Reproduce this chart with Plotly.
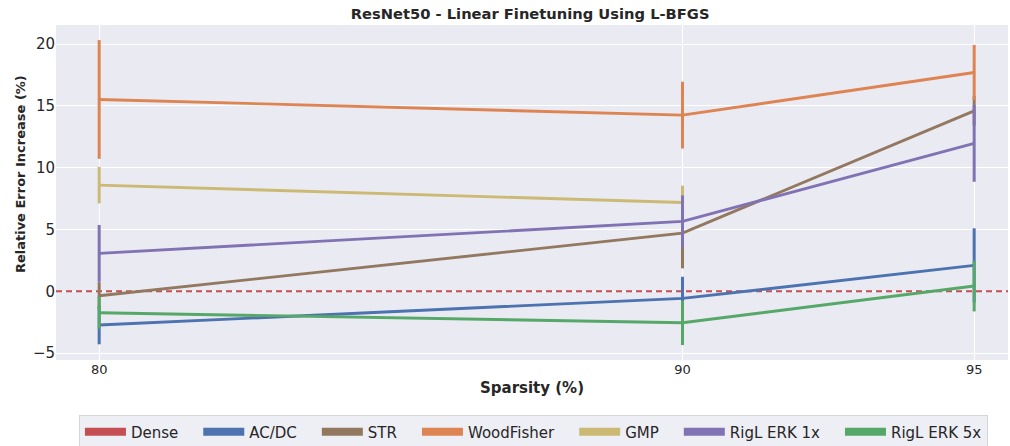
import plotly.graph_objects as go

# ---- data ----
sparsity = [80, 90, 95]
dense_value = 0.0

acdc = [-2.72, -0.57, 2.10]
acdc_err = [1.56, 1.75, 3.00]
str_vals = [-0.35, 4.71, 14.60]
str_err = [1.10, 2.85, 1.20]
woodfisher = [15.52, 14.25, 17.70]
woodfisher_err = [4.80, 2.70, 2.23]
gmp = [8.59, 7.19, None]
gmp_err = [1.48, 1.35, None]
rigl1x = [3.07, 5.66, 11.96]
rigl1x_err = [2.30, 2.10, 3.10]
rigl5x = [-1.73, -2.54, 0.43]
rigl5x_err = [1.30, 1.80, 2.05]

x_ticks = [80, 90, 95]
y_ticks = [-5, 0, 5, 10, 15, 20]
x_range = [79.26, 95.58]
y_range = [-5.55, 21.54]

# ---- style ----
COL = {
    "Dense": "#C44E52",
    "AC/DC": "#4C72B0",
    "STR": "#937860",
    "WoodFisher": "#DD8452",
    "GMP": "#CCB974",
    "RigL ERK 1x": "#8172B3",
    "RigL ERK 5x": "#55A868",
}
FONT = "DejaVu Sans"
TXT = "#262626"

series = [
    ("AC/DC", acdc, acdc_err),
    ("STR", str_vals, str_err),
    ("WoodFisher", woodfisher, woodfisher_err),
    ("GMP", gmp, gmp_err),
    ("RigL ERK 1x", rigl1x, rigl1x_err),
    ("RigL ERK 5x", rigl5x, rigl5x_err),
]

fig = go.Figure()

# Dense reference line spanning the whole axis
fig.add_trace(go.Scatter(
    x=x_range, y=[dense_value, dense_value], mode="lines", name="Dense",
    showlegend=False, line=dict(color=COL["Dense"], width=2, dash="6px,4px"),
    hoverinfo="skip",
))

for name, vals, err in series:
    fig.add_trace(go.Scatter(
        x=sparsity, y=vals, mode="lines", name=name, showlegend=False,
        line=dict(color=COL[name], width=2.9),
        error_y=dict(type="data", array=err, visible=True, width=0,
                     thickness=3, color=COL[name]),
    ))

# legend entries (thick patches); trailing en-spaces widen the item spacing
legend_names = ["Dense"] + [s[0] for s in series]
for i, name in enumerate(legend_names):
    pad = "" if i == len(legend_names) - 1 else "\u2002\u2002"
    fig.add_trace(go.Scatter(
        x=[x_range[0]], y=[y_range[0] - 100], mode="lines", name=name + pad,
        showlegend=True, line=dict(color=COL[name], width=8),
        hoverinfo="skip",
    ))

fig.update_layout(
    width=1010, height=446,
    margin=dict(l=56, r=2, t=25, b=86, autoexpand=False),
    paper_bgcolor="white",
    plot_bgcolor="#EAEAF2",
    font=dict(family=FONT, color=TXT),
    title=dict(text="ResNet50 - Linear Finetuning Using L-BFGS",
               font=dict(size=14.7, weight="bold", color=TXT),
               x=0.498, xref="paper", xanchor="center",
               y=1 - 14 / 446, yref="container", yanchor="middle"),
    showlegend=True,
    legend=dict(orientation="h", x=0.5015, xanchor="center",
                y=-0.1627, yanchor="top",
                bgcolor="#EEEEF5", bordercolor="#D6D6D6", borderwidth=1,
                font=dict(size=15, family=FONT, color=TXT),
                itemwidth=41, traceorder="normal"),
    annotations=[dict(
        text="Relative Error Increase (%)", textangle=-90,
        xref="paper", yref="paper", x=-0.0378, y=0.555,
        xanchor="center", yanchor="middle", showarrow=False,
        font=dict(size=13, weight="bold", color=TXT, family=FONT),
    )],
)

fig.update_xaxes(
    range=x_range, tickvals=x_ticks, ticktext=[str(v) for v in x_ticks],
    showgrid=True, gridcolor="white", gridwidth=1.2, zeroline=False,
    showline=False, ticks="", tickfont=dict(size=13, color=TXT),
    title=dict(text="Sparsity (%)", font=dict(size=15, weight="bold", color=TXT),
               standoff=6),
    automargin=False,
)
fig.update_yaxes(
    range=y_range, tickvals=y_ticks,
    ticktext=[("\u2212" + str(-v)) if v < 0 else str(v) for v in y_ticks],
    showgrid=True, gridcolor="white", gridwidth=1.2, zeroline=False,
    showline=False, ticks="", tickfont=dict(size=15, color=TXT),
    automargin=False,
)

fig.write_html(
    "out.html",
    config={"displayModeBar": False},
    post_script="document.body.style.margin='0';document.body.style.overflow='hidden';",
)
